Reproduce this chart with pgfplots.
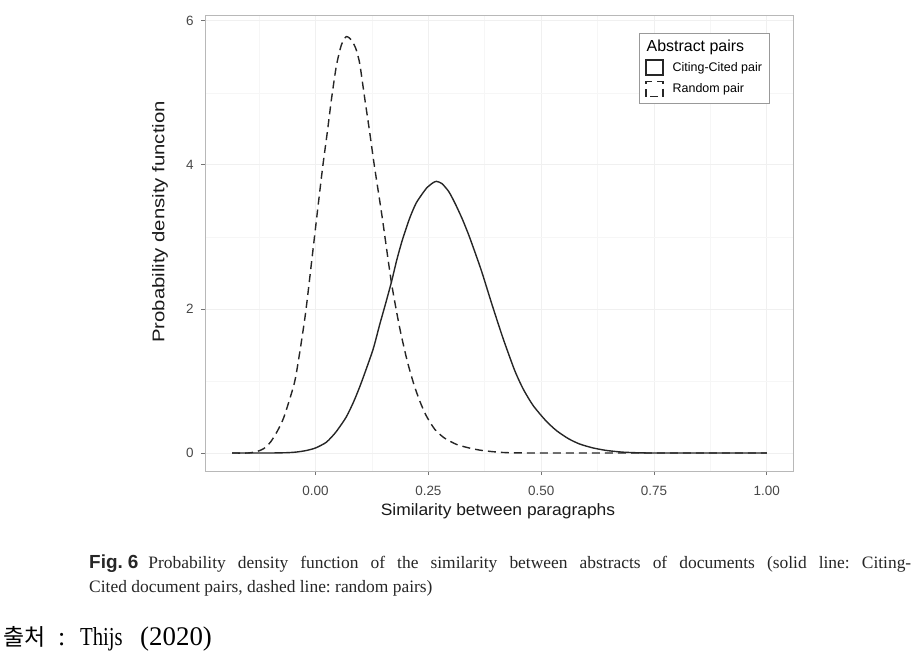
\documentclass[border=0pt]{standalone}
\usepackage{fontspec}
\setmainfont{Liberation Sans}
\newfontfamily\capfont{Liberation Serif}
\newfontfamily\korlat[FakeStretch=0.8]{Liberation Serif}
\newfontfamily\figfont{Liberation Sans}
\newfontfamily\korfont{Noto Sans CJK KR}
\usepackage{pgfplots}
\pgfplotsset{compat=1.18}
\begin{document}
\frenchspacing
\begin{tikzpicture}
\useasboundingbox (0,0) rectangle (920bp,-658bp);
\begin{axis}[
  at={(205bp,-471bp)}, anchor=south west,
  scale only axis, width=588bp, height=456bp,
  xmin=-0.245, xmax=1.058, ymin=-0.25, ymax=6.08,
  xtick={0,0.25,0.5,0.75,1}, xticklabels={0.00,0.25,0.50,0.75,1.00},
  ytick={0,2,4,6},
  minor xtick={-0.125,0.125,0.375,0.625,0.875},
  minor ytick={1,3,5},
  tick pos=left,
  grid=both,
  major grid style={black!6, line width=0.8bp},
  minor grid style={black!3.5, line width=0.6bp},
  axis line style={black!28, line width=0.8bp},
  tick align=outside, major tick length=4bp, minor tick length=0pt,
  major tick style={black!55, line width=0.8bp},
  tick label style={font=\fontsize{13.5}{15}\selectfont, text=black!72},
  /pgf/number format/assume math mode=true,
  xticklabel style={yshift=-8bp},
  yticklabel style={xshift=-4bp},
  legend style={at={(0.738,0.9605)}, anchor=north west, draw=black!40, line width=0.7bp,
    font=\fontsize{12.5}{14}\selectfont, cells={anchor=west}, inner xsep=6bp, inner ysep=6bp,
    row sep=5bp, column sep=8bp, nodes={inner sep=1bp}},
  legend cell align=left,
  legend image code/.code={\draw[#1] (0bp,-7.5bp) rectangle (17bp,7.5bp);},
]
\addlegendimage{empty legend}
\addlegendentry{\hspace*{-26bp}\fontsize{16}{18}\selectfont Abstract pairs}
\addplot[black!85, line width=1.4bp, smooth, tension=0.4] coordinates {
(-0.185,0) (-0.1,0) (-0.06,0.005) (-0.04,0.015) (-0.02,0.035) (0.0,0.07) (0.024,0.15)
(0.045,0.29) (0.068,0.50) (0.085,0.72) (0.101,0.97) (0.127,1.43) (0.142,1.78) (0.155,2.07)
(0.168,2.37) (0.18,2.68) (0.192,2.95) (0.208,3.25) (0.223,3.47) (0.245,3.67) (0.26,3.75)
(0.268,3.77) (0.28,3.74) (0.295,3.63) (0.308,3.48) (0.325,3.25) (0.341,3.0) (0.367,2.54)
(0.39,2.08) (0.415,1.60) (0.441,1.15) (0.46,0.89) (0.482,0.66) (0.51,0.45) (0.534,0.31)
(0.56,0.20) (0.585,0.125) (0.615,0.07) (0.645,0.035) (0.68,0.012) (0.72,0.002) (0.76,0) (1.0,0)
};
\addlegendentry{Citing-Cited pair}
\addplot[black!85, line width=1.4bp, dash pattern=on 8bp off 5bp, smooth, tension=0.4] coordinates {
(-0.185,0) (-0.15,0) (-0.13,0.02) (-0.115,0.06) (-0.10,0.15) (-0.085,0.30) (-0.07,0.50)
(-0.047,0.97) (-0.035,1.4) (-0.022,1.95) (-0.007,2.75) (0.005,3.4) (0.016,3.98) (0.027,4.5)
(0.035,4.9) (0.046,5.37) (0.057,5.66) (0.068,5.78) (0.08,5.73) (0.09,5.6) (0.098,5.40)
(0.109,4.92) (0.12,4.45) (0.13,4.0) (0.147,3.3) (0.168,2.37) (0.186,1.75) (0.203,1.28)
(0.218,0.95) (0.231,0.72) (0.245,0.52) (0.264,0.33) (0.285,0.21) (0.312,0.12) (0.34,0.07)
(0.364,0.04) (0.39,0.02) (0.423,0.005) (0.5,0) (1.0,0)
};
\addlegendentry{Random pair}
\end{axis}
\node[rotate=90, anchor=center, inner sep=0pt, text=black!90] at (160bp,-222bp)
  {\scalebox{1.2}[1]{\fontsize{17}{19}\selectfont Probability density function}};
\node[anchor=base, inner sep=0pt, text=black!90] at (498bp,-515bp)
  {\scalebox{1.06}[1]{\fontsize{16.5}{18}\selectfont Similarity between paragraphs}};
\node[anchor=base west, inner sep=0pt, text=black!85] at (89bp,-568bp)
  {\fontsize{17.5}{20}\capfont\makebox[822bp][s]{{\fontsize{19}{20}\figfont\bfseries Fig.\kern5bp6}\kern10bp Probability density function of the similarity between abstracts of documents (solid line: Citing-}};
\node[anchor=base west, inner sep=0pt, text=black!85] at (89bp,-592bp)
  {\fontsize{17.5}{20}\capfont Cited document pairs, dashed line: random pairs)};
\node[anchor=base west, inner sep=0pt] at (3bp,-645bp) {\fontsize{23}{26}\korfont 출처};
\node[anchor=base west, inner sep=0pt] at (58bp,-645bp) {\fontsize{26}{28}\capfont :};
\node[anchor=base west, inner sep=0pt] at (80bp,-645bp) {\fontsize{26}{28}\korlat Thijs};
\node[anchor=base west, inner sep=0pt] at (140bp,-645bp) {\fontsize{27}{28}\capfont (2020)};
\end{tikzpicture}
\end{document}
